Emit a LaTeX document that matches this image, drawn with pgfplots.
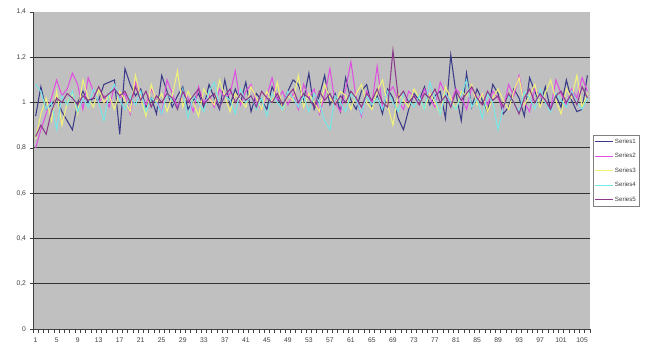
\documentclass[border=0pt]{standalone}
\usepackage{pgfplots}
\usepackage{pgfplotstable}
\pgfplotsset{compat=1.18}
\usepackage{fontspec}
\setmainfont{Liberation Sans}
\definecolor{sA}{HTML}{3A3A88}
\definecolor{sB}{HTML}{E050E0}
\definecolor{sC}{HTML}{F2F27A}
\definecolor{sD}{HTML}{78E6E6}
\definecolor{sE}{HTML}{8C3A8C}
\definecolor{plotbg}{HTML}{C0C0C0}
\pgfplotstableread{
i s1 s2 s3 s4 s5
1 0.94 0.80 0.84 1.08 0.85
2 1.07 0.88 0.95 1.05 0.90
3 0.97 0.95 1.02 0.97 0.86
4 0.99 1.02 0.92 1.00 0.96
5 1.02 1.10 1.05 0.88 1.02
6 0.96 1.03 0.90 1.03 1.00
7 0.92 1.06 1.00 0.99 1.04
8 0.88 1.13 1.04 1.05 1.02
9 1.00 1.08 0.95 0.96 0.99
10 1.05 0.97 1.10 1.02 1.03
11 1.00 1.11 1.02 0.98 1.01
12 1.02 1.05 0.98 1.06 1.02
13 1.01 1.00 1.06 1.00 1.07
14 1.08 1.03 1.00 0.92 1.02
15 1.09 0.98 1.03 1.04 1.04
16 1.10 1.07 0.97 1.08 1.06
17 0.86 1.02 1.05 1.01 1.03
18 1.15 1.04 1.01 0.97 1.05
19 1.08 0.95 0.96 1.03 1.00
20 1.03 1.09 1.12 0.99 1.07
21 1.06 1.03 1.02 1.05 1.01
22 0.98 0.99 0.94 0.96 1.05
23 1.02 1.06 1.08 1.02 0.98
24 0.95 1.01 1.00 1.00 1.03
25 1.12 0.95 1.04 0.95 1.00
26 1.05 1.10 0.96 1.04 1.04
27 0.98 1.04 1.03 1.01 1.02
28 1.03 0.98 1.14 0.97 0.97
29 1.07 1.05 0.98 1.06 1.05
30 0.97 1.02 1.05 0.93 1.00
31 1.01 0.96 1.00 1.03 1.03
32 1.04 1.07 0.94 1.00 1.06
33 0.98 1.00 1.06 0.96 0.99
34 1.08 1.03 1.02 1.05 1.02
35 1.02 0.98 0.99 1.09 1.04
36 0.97 1.06 1.10 0.98 0.98
37 1.10 1.02 1.03 1.03 1.03
38 0.99 1.04 0.96 1.01 1.06
39 1.06 1.14 1.04 0.95 1.00
40 1.00 0.99 1.01 1.06 1.04
41 1.09 1.05 0.98 1.00 1.01
42 0.96 1.08 1.07 1.03 1.03
43 1.04 1.00 1.02 0.97 0.98
44 1.01 0.97 0.97 1.02 1.05
45 0.97 1.03 1.05 0.94 1.02
46 1.07 1.11 1.00 1.04 1.00
47 1.02 1.01 1.09 1.00 1.04
48 0.98 1.05 0.97 0.97 0.99
49 1.05 0.99 1.03 1.05 1.03
50 1.10 1.04 1.01 1.02 1.06
51 1.08 0.97 1.12 0.98 1.00
52 1.01 1.08 0.98 1.03 1.04
53 1.13 1.02 1.04 0.96 1.02
54 0.97 1.06 1.00 1.04 0.98
55 1.03 0.95 0.96 1.00 1.05
56 1.12 1.03 1.08 0.92 1.01
57 0.99 1.15 1.02 0.88 1.04
58 1.04 1.00 0.99 1.03 0.99
59 0.96 0.96 1.05 1.00 1.03
60 1.11 1.06 1.03 0.96 1.00
61 1.01 1.18 0.97 1.04 1.05
62 0.97 1.02 1.04 1.01 1.02
63 1.05 0.94 1.08 0.95 0.98
64 1.08 1.05 1.00 1.03 1.04
65 0.98 1.00 0.97 0.99 1.01
66 1.03 1.16 1.05 1.02 1.06
67 0.95 0.98 1.10 0.97 1.00
68 1.06 1.04 0.99 1.05 0.98
69 1.02 1.07 0.90 1.00 1.23
70 0.93 1.01 1.04 0.96 1.02
71 0.88 0.97 1.01 1.04 1.05
72 0.97 1.05 0.98 1.01 1.00
73 1.04 1.03 1.06 0.98 1.03
74 1.01 0.99 1.02 1.03 0.99
75 1.07 1.06 0.97 0.97 1.04
76 0.99 1.02 1.04 1.09 1.02
77 1.03 0.98 1.00 1.02 1.06
78 1.05 1.09 0.95 0.95 1.00
79 0.93 1.04 1.07 1.04 1.03
80 1.21 1.00 1.02 1.00 0.98
81 1.04 1.06 0.97 0.97 1.05
82 0.92 1.03 1.05 1.03 1.01
83 1.13 0.97 1.03 1.10 1.04
84 0.98 1.07 1.08 0.98 1.07
85 1.06 1.01 0.99 1.02 1.02
86 1.01 1.04 1.04 0.93 0.99
87 0.96 0.99 0.96 1.04 1.05
88 1.08 1.05 1.02 1.00 1.01
89 1.04 1.02 1.06 0.88 1.03
90 0.95 0.97 1.01 0.98 0.98
91 0.98 1.08 0.97 1.03 1.04
92 1.06 1.03 1.05 1.00 1.00
93 1.02 1.12 1.11 0.96 0.95
94 0.94 1.00 0.99 1.05 1.02
95 1.11 0.96 1.03 1.02 1.06
96 1.05 1.06 1.08 0.97 1.00
97 0.99 1.03 0.98 1.06 1.04
98 1.07 1.01 1.04 1.00 1.01
99 0.97 0.97 1.10 0.96 0.97
100 1.03 1.10 1.01 1.04 1.03
101 0.98 1.04 0.95 1.01 1.05
102 1.10 0.99 1.06 0.98 1.00
103 1.01 1.06 1.02 1.05 1.04
104 0.96 1.02 1.12 1.00 0.99
105 0.97 1.11 0.98 0.97 1.07
106 1.12 1.05 1.04 1.02 1.02
}\datatable
\begin{document}
\begin{tikzpicture}
\path[use as bounding box] (-33bp,-22bp) rectangle (617bp,329bp);
\begin{axis}[
  at={(0,0)}, anchor=south west,
  scale only axis, width=557bp, height=317bp,
  xmin=0.5, xmax=106.5, ymin=0, ymax=1.4,
  axis background/.style={fill=plotbg},
  axis x line*=bottom, axis y line*=left,
  axis line style={black!75, line width=0.8bp},
  xtick={0.5,1.5,...,106.5},
  xticklabels={},
  extra x ticks={1,5,...,105},
  extra x tick style={major tick length=0pt},
  ytick={0,0.2,...,1.4},
  major tick length=3.5bp,
  tick align=outside,
  tick style={black!75, line width=0.6bp},
  extra y ticks={0.2,0.4,...,1.2},
  extra y tick labels={},
  extra y tick style={grid=major, major grid style={black!80, line width=1.2bp}, major tick length=0pt},
  /pgf/number format/assume math mode=true,
  yticklabel style={/pgf/number format/.cd, use comma, fixed, precision=1},
  ticklabel style={font=\fontsize{6.8}{7}\selectfont, text=black!75},
  xticklabel style={yshift=-5bp},
  clip=false,
  legend style={at={(axis description cs:1.006,0.612)}, anchor=north west,
    font=\fontsize{6.2}{7}\selectfont, draw=black!50, fill=white,
    inner sep=1.5bp, row sep=4.6bp,
    nodes={text=black!75}},
  legend cell align=left,
  legend image post style={line width=0.9bp},
  every axis plot/.append style={line width=1.05bp, mark=none},
]
\addplot[sA] table[x=i,y=s1]{\datatable};
\addlegendentry{Series1}
\addplot[sB] table[x=i,y=s2]{\datatable};
\addlegendentry{Series2}
\addplot[sC] table[x=i,y=s3]{\datatable};
\addlegendentry{Series3}
\addplot[sD] table[x=i,y=s4]{\datatable};
\addlegendentry{Series4}
\addplot[sE] table[x=i,y=s5]{\datatable};
\addlegendentry{Series5}
\end{axis}
\end{tikzpicture}
\end{document}
